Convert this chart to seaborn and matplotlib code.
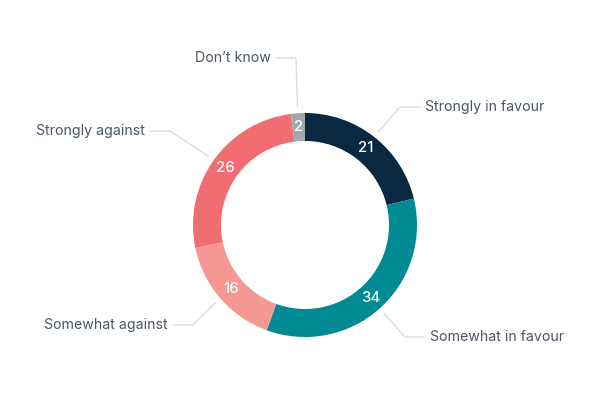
import numpy as np
import matplotlib
matplotlib.use("Agg")
import matplotlib.pyplot as plt
import seaborn as sns

categories = ["Strongly in favour", "Somewhat in favour", "Somewhat against",
              "Strongly against", "Don\u2019t know"]
values = [21, 34, 16, 26, 2]
colors = ["#0a2840", "#008a93", "#f59893", "#f06e71", "#9ea9ae"]

sns.set_theme(style="white")
plt.rcParams["font.family"] = ["Inter", "DejaVu Sans"]

fig = plt.figure(figsize=(6, 4), dpi=100)
ax = fig.add_axes([0, 0, 1, 1])

cx, cy = 305, 175
R = 112
width = 28

wedges, _ = ax.pie(values, colors=colors, startangle=90, counterclock=False,
                   radius=R, center=(cx, cy), frame=True,
                   wedgeprops=dict(width=width, linewidth=0))
ax.set_xlim(0, 600)
ax.set_ylim(0, 400)
ax.set_aspect("equal")
ax.axis("off")

# label layout: elbow points (pixel coords, y from top) and side
elbows = [(400, 107, 1), (405, 337, 1), (193, 325, -1), (170, 131, -1), (296, 58, -1)]
line_col = "#d6dce2"
text_col = "#4a5566"

for w, v, cat, (ex, ey, side) in zip(wedges, values, categories, elbows):
    mid = np.deg2rad((w.theta1 + w.theta2) / 2)
    rm = R - width / 2
    ax.text(cx + rm * np.cos(mid), cy + rm * np.sin(mid), str(v),
            ha="center", va="center", color="white", fontsize=10.8,
            fontweight="medium")
    sx, sy = cx + (R + 6) * np.cos(mid), cy + (R + 6) * np.sin(mid)
    EY = 400 - ey
    hx = ex + side * 20
    ax.plot([sx, ex, hx], [sy, EY, EY], color=line_col, lw=1, solid_capstyle="butt")
    ax.text(hx + side * 5, EY, cat, ha="left" if side > 0 else "right",
            va="center", color=text_col, fontsize=10.2)

fig.savefig("out.png", dpi=100)
